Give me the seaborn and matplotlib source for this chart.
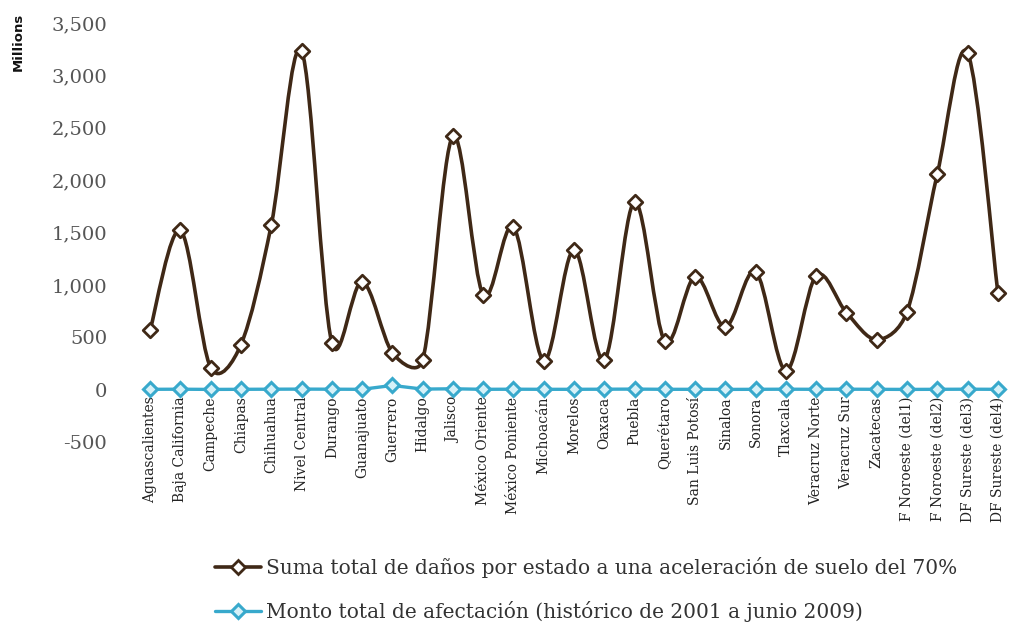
import numpy as np
import pandas as pd
import matplotlib
matplotlib.use("Agg")
import matplotlib.pyplot as plt
from matplotlib.path import Path
from matplotlib.patches import PathPatch
from matplotlib.lines import Line2D
from matplotlib.ticker import FuncFormatter
import seaborn as sns

# Damage estimates by state (millions)
states = [
    "Aguascalientes", "Baja California", "Campeche", "Chiapas", "Chihuahua",
    "Nivel Central", "Durango", "Guanajuato", "Guerrero", "Hidalgo", "Jalisco",
    "México Oriente", "México Poniente", "Michoacán", "Morelos", "Oaxaca",
    "Puebla", "Querétaro", "San Luis Potosí", "Sinaloa", "Sonora", "Tlaxcala",
    "Veracruz Norte", "Veracruz Sur", "Zacatecas", "F Noroeste (del1)",
    "F Noroeste (del2)", "DF Sureste (del3)", "DF Sureste (del4)",
]
suma_danos = [
    570, 1520, 210, 430, 1570, 3235, 448, 1030, 353, 280, 2420, 906, 1554,
    277, 1335, 283, 1793, 463, 1078, 600, 1125, 181, 1087, 734, 477, 744,
    2060, 3214, 925,
]
monto_afectacion = [
    3, 4, 2, 3, 4, 5, 4, 3, 40, 5, 8, 3, 4, 3, 3, 4, 5, 3, 3, 2, 3, 4, 3,
    4, 3, 2, 3, 4, 3,
]

label_suma = "Suma total de daños por estado a una aceleración de suelo del 70%"
label_monto = "Monto total de afectación (histórico de 2001 a junio 2009)"

brown = "#3f2816"
blue = "#38a9cc"
blue_fill = "#d6f1f8"

sns.set_theme(style="white")
plt.rcParams["font.family"] = ["DejaVu Serif"]

fig = plt.figure(figsize=(10.10, 6.26), dpi=100)
W, H = 1010, 626
ax = fig.add_axes([135 / W, (H - 442) / H, (1013 - 135) / W, (442 - 23) / H])

df = pd.DataFrame({"x": np.arange(len(states)), "suma": suma_danos,
                   "monto": monto_afectacion})

ax.set_xlim(-0.5, len(states) - 0.5)
ax.set_ylim(-500, 3500)
# category axis crosses the value axis at zero
ax.spines["bottom"].set_position(("data", 0))
for s in ["left", "right", "top", "bottom"]:
    ax.spines[s].set_visible(False)

# Smoothed curve: cubic Bezier segments; each handle points along the
# neighbour-to-neighbour direction, with length min(chord/6, segment/2)
# measured on screen.
pts = df[["x", "suma"]].to_numpy(float)
scr = ax.transData.transform(pts)
n = len(pts)


def handle(i, j, k, seg):
    """Offset (in data units) at point j along direction pts[k]-pts[i]."""
    d_chord = np.linalg.norm(scr[k] - scr[i])
    if d_chord == 0:
        return np.zeros(2)
    length = min(d_chord / 6.0, seg / 2.0)
    return (pts[k] - pts[i]) * (length / d_chord)


verts = [tuple(pts[0])]
codes = [Path.MOVETO]
for i in range(n - 1):
    seg = np.linalg.norm(scr[i + 1] - scr[i])
    c1 = pts[i] + handle(max(i - 1, 0), i, i + 1, seg)
    c2 = pts[i + 1] - handle(i, i + 1, min(i + 2, n - 1), seg)
    verts += [tuple(c1), tuple(c2), tuple(pts[i + 1])]
    codes += [Path.CURVE4] * 3
ax.add_patch(PathPatch(Path(verts, codes), facecolor="none", edgecolor=brown,
                       lw=2.6, transform=ax.transData, zorder=3,
                       capstyle="round", joinstyle="round"))
sns.scatterplot(data=df, x="x", y="suma", ax=ax, marker="D", s=55,
                color="white", edgecolor=brown, linewidth=2.0, zorder=4,
                legend=False)

# Historical amount series
sns.lineplot(data=df, x="x", y="monto", ax=ax, color=blue, lw=2.4,
             marker="D", markersize=7, markerfacecolor=blue_fill,
             markeredgecolor=blue, markeredgewidth=2.2, zorder=5, legend=False)

ax.set_xlim(-0.5, len(states) - 0.5)
ax.set_ylim(-500, 3500)
ax.set_yticks(np.arange(-500, 3501, 500))
ax.yaxis.set_major_formatter(FuncFormatter(lambda v, p: f"{int(v):,}"))
ax.set_xticks(df["x"])
ax.set_xticklabels(states, rotation=90, fontsize=10, color="#222222",
                   va="top", ha="center")
ax.tick_params(axis="y", labelsize=14, colors="#555555", length=0, pad=20)
ax.tick_params(axis="x", length=0, pad=5)
ax.set_xlabel("")
ax.set_ylabel("")
ax.grid(False)

fig.text(18 / W, 1 - 42 / H, "Millions", rotation=90, ha="center", va="center",
         fontsize=9.5, fontweight="bold", family="DejaVu Sans", color="#111111")

leg_handles = [
    Line2D([], [], color=brown, lw=2.6, marker="D", markersize=7,
           markerfacecolor="white", markeredgecolor=brown, markeredgewidth=2),
    Line2D([], [], color=blue, lw=2.4, marker="D", markersize=7,
           markerfacecolor=blue_fill, markeredgecolor=blue, markeredgewidth=2.2),
]
fig.legend(leg_handles, [label_suma, label_monto], loc="upper left",
           bbox_to_anchor=(207 / W, 1 - 549 / H), frameon=False, fontsize=14.5,
           labelcolor="#333333", handlelength=2.3, handletextpad=0.25,
           labelspacing=1.12, borderaxespad=0)

fig.savefig("out.png", dpi=100, facecolor="white")
